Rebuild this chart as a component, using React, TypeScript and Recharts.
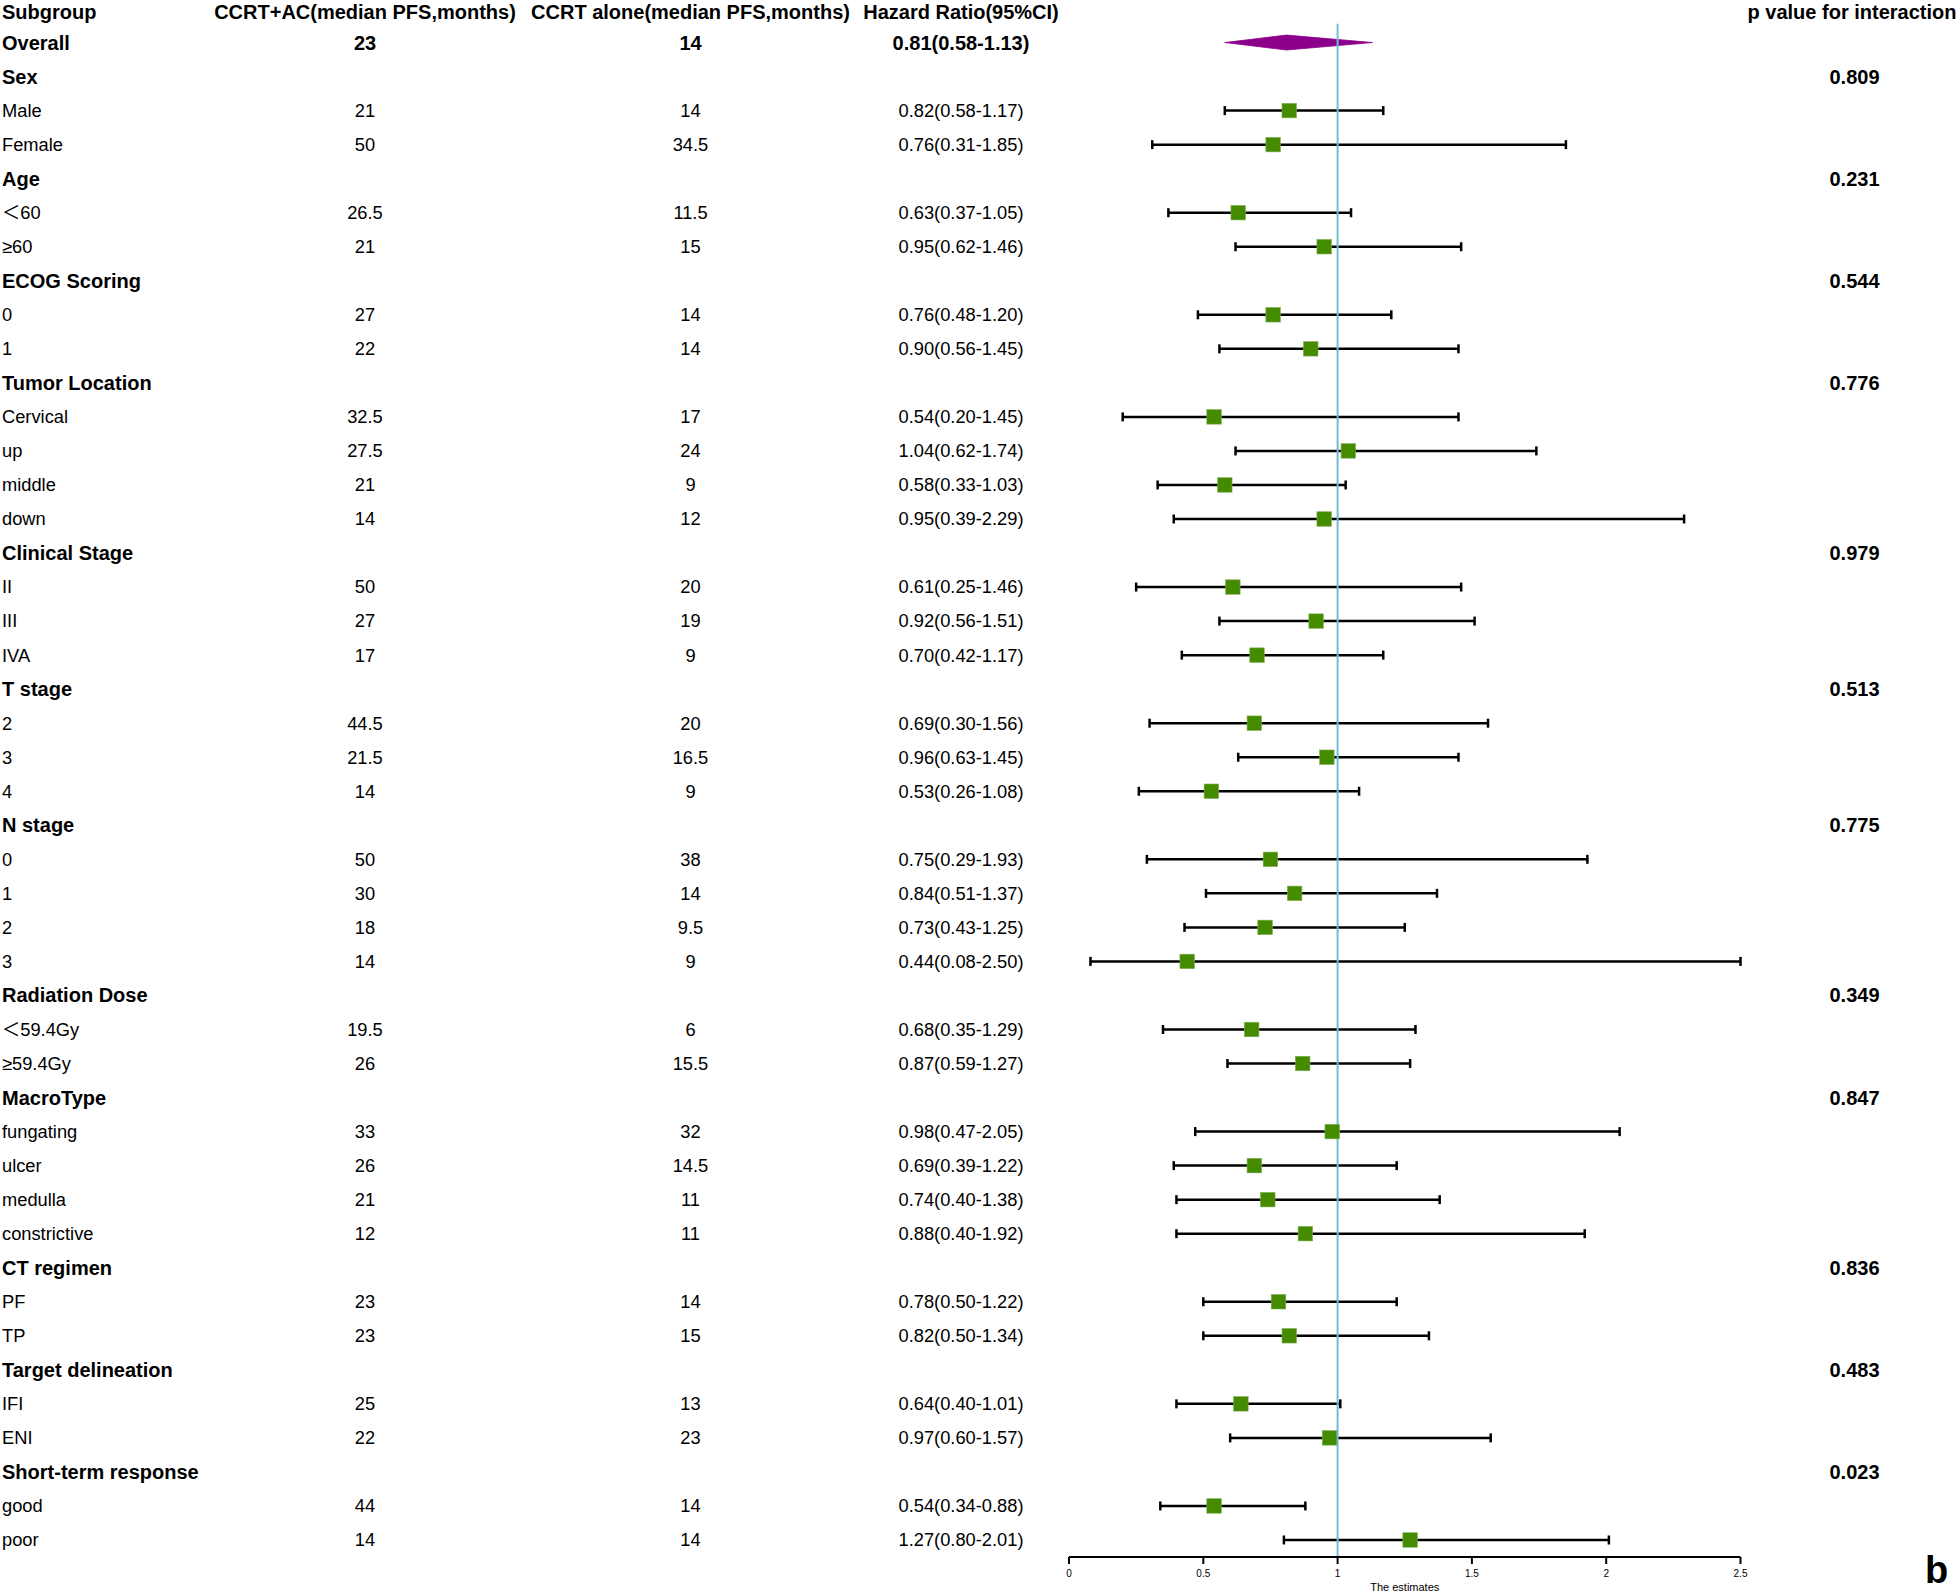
import React from 'react';
import { ComposedChart, Scatter, XAxis, YAxis, ErrorBar, ReferenceLine, ReferenceArea } from 'recharts';

// ---------- data ----------
const headers = [
  'Subgroup',
  'CCRT+AC(median PFS,months)',
  'CCRT alone(median PFS,months)',
  'Hazard Ratio(95%CI)',
  'p value for interaction',
];

const subgroups = [
  'Overall', 'Sex', 'Male', 'Female', 'Age', '＜60', '≥60', 'ECOG Scoring', '0', '1',
  'Tumor Location', 'Cervical', 'up', 'middle', 'down', 'Clinical Stage', 'II', 'III', 'IVA',
  'T stage', '2', '3', '4', 'N stage', '0', '1', '2', '3', 'Radiation Dose', '＜59.4Gy', '≥59.4Gy',
  'MacroType', 'fungating', 'ulcer', 'medulla', 'constrictive', 'CT regimen', 'PF', 'TP',
  'Target delineation', 'IFI', 'ENI', 'Short-term response', 'good', 'poor',
];

const rowKind = [
  'overall', 'group', 'item', 'item', 'group', 'item', 'item', 'group', 'item', 'item',
  'group', 'item', 'item', 'item', 'item', 'group', 'item', 'item', 'item',
  'group', 'item', 'item', 'item', 'group', 'item', 'item', 'item', 'item', 'group', 'item', 'item',
  'group', 'item', 'item', 'item', 'item', 'group', 'item', 'item',
  'group', 'item', 'item', 'group', 'item', 'item',
];

const acMedian = [
  23, null, 21, 50, null, 26.5, 21, null, 27, 22,
  null, 32.5, 27.5, 21, 14, null, 50, 27, 17,
  null, 44.5, 21.5, 14, null, 50, 30, 18, 14, null, 19.5, 26,
  null, 33, 26, 21, 12, null, 23, 23,
  null, 25, 22, null, 44, 14,
];

const aloneMedian = [
  14, null, 14, 34.5, null, 11.5, 15, null, 14, 14,
  null, 17, 24, 9, 12, null, 20, 19, 9,
  null, 20, 16.5, 9, null, 38, 14, 9.5, 9, null, 6, 15.5,
  null, 32, 14.5, 11, 11, null, 14, 15,
  null, 13, 23, null, 14, 14,
];

const hazardRatio = [
  0.81, null, 0.82, 0.76, null, 0.63, 0.95, null, 0.76, 0.90,
  null, 0.54, 1.04, 0.58, 0.95, null, 0.61, 0.92, 0.70,
  null, 0.69, 0.96, 0.53, null, 0.75, 0.84, 0.73, 0.44, null, 0.68, 0.87,
  null, 0.98, 0.69, 0.74, 0.88, null, 0.78, 0.82,
  null, 0.64, 0.97, null, 0.54, 1.27,
];

const ciLow = [
  0.58, null, 0.58, 0.31, null, 0.37, 0.62, null, 0.48, 0.56,
  null, 0.20, 0.62, 0.33, 0.39, null, 0.25, 0.56, 0.42,
  null, 0.30, 0.63, 0.26, null, 0.29, 0.51, 0.43, 0.08, null, 0.35, 0.59,
  null, 0.47, 0.39, 0.40, 0.40, null, 0.50, 0.50,
  null, 0.40, 0.60, null, 0.34, 0.80,
];

const ciHigh = [
  1.13, null, 1.17, 1.85, null, 1.05, 1.46, null, 1.20, 1.45,
  null, 1.45, 1.74, 1.03, 2.29, null, 1.46, 1.51, 1.17,
  null, 1.56, 1.45, 1.08, null, 1.93, 1.37, 1.25, 2.50, null, 1.29, 1.27,
  null, 2.05, 1.22, 1.38, 1.92, null, 1.22, 1.34,
  null, 1.01, 1.57, null, 0.88, 2.01,
];

const pInteraction = [
  null, 0.809, null, null, 0.231, null, null, 0.544, null, null,
  0.776, null, null, null, null, 0.979, null, null, null,
  0.513, null, null, null, 0.775, null, null, null, null, 0.349, null, null,
  0.847, null, null, null, null, 0.836, null, null,
  0.483, null, null, 0.023, null, null,
];

const xTicks = [0, 0.5, 1, 1.5, 2, 2.5];

// ---------- derived tables ----------
const rowIndices = Array.from({ length: subgroups.length + 1 }, (_, i) => i);
const pointData = subgroups
  .map((_, i) => ({ i, row: i + 1 }))
  .filter(({ i }) => rowKind[i] === 'item')
  .map(({ i, row }) => ({
    row,
    hr: hazardRatio[i] as number,
    err: [(hazardRatio[i] as number) - (ciLow[i] as number), (ciHigh[i] as number) - (hazardRatio[i] as number)],
  }));

// ---------- styles ----------
const FONT = '"Liberation Sans", Arial, "Noto Sans CJK SC", sans-serif';
const NARROW = '"Liberation Sans Narrow", "Liberation Sans", Arial, sans-serif';
const COL_X = { label: 2, ac: 365, alone: 690.5, hr: 961, p: 1854.5, pHead: 1852 };
const GREEN = '#458B00';
const PURPLE = '#8B008B';
const REFBLUE = '#6DBED3';

const fmt2 = (v: number) => v.toFixed(2);

const RowTick = (props: any) => {
  const { y, payload } = props;
  const r = payload.value as number;
  const bold = { fontFamily: FONT, fontSize: 20, fontWeight: 700, fill: '#000' } as const;
  const normal = { fontFamily: FONT, fontSize: 18.3, fontWeight: 400, fill: '#000' } as const;
  if (r === 0) {
    const hdy = '0.5em';
    return (
      <g>
        <text x={COL_X.label} y={y} dy={hdy} textAnchor="start" {...bold}>{headers[0]}</text>
        <text x={COL_X.ac} y={y} dy={hdy} textAnchor="middle" {...bold}>{headers[1]}</text>
        <text x={COL_X.alone} y={y} dy={hdy} textAnchor="middle" {...bold}>{headers[2]}</text>
        <text x={COL_X.hr} y={y} dy={hdy} textAnchor="middle" {...bold}>{headers[3]}</text>
        <text x={COL_X.pHead} y={y} dy={hdy} textAnchor="middle" {...bold}>{headers[4]}</text>
      </g>
    );
  }
  const i = r - 1;
  const kind = rowKind[i];
  if (kind === 'group') {
    const p = pInteraction[i];
    return (
      <g>
        <text x={COL_X.label} y={y} dy="0.35em" textAnchor="start" {...bold}>{subgroups[i]}</text>
        {p !== null && (
          <text x={COL_X.p} y={y} dy="0.35em" textAnchor="middle" {...bold}>{(p as number).toFixed(3)}</text>
        )}
      </g>
    );
  }
  const st = kind === 'overall' ? bold : normal;
  const hrText = `${fmt2(hazardRatio[i] as number)}(${fmt2(ciLow[i] as number)}-${fmt2(ciHigh[i] as number)})`;
  return (
    <g>
      <text x={COL_X.label} y={y} dy="0.35em" textAnchor="start" {...st}>{subgroups[i]}</text>
      <text x={COL_X.ac} y={y} dy="0.35em" textAnchor="middle" {...st}>{String(acMedian[i])}</text>
      <text x={COL_X.alone} y={y} dy="0.35em" textAnchor="middle" {...st}>{String(aloneMedian[i])}</text>
      <text x={COL_X.hr} y={y} dy="0.35em" textAnchor="middle" {...st}>{hrText}</text>
    </g>
  );
};

const SquareShape = (props: any) => {
  const { cx, cy } = props;
  const s = 14.5;
  return <rect x={cx - s / 2} y={cy - s / 2} width={s} height={s} fill={GREEN} stroke="#7fae55" strokeWidth={0.6} />;
};

const DiamondShape = (props: any) => {
  const { x, y, width, height } = props;
  const frac = ((hazardRatio[0] as number) - (ciLow[0] as number)) / ((ciHigh[0] as number) - (ciLow[0] as number));
  const px = x + width * frac;
  const my = y + height / 2;
  const pts = `${x},${my} ${px},${y} ${x + width},${my} ${px},${y + height}`;
  return <polygon points={pts} fill={PURPLE} stroke={PURPLE} strokeWidth={0.8} strokeLinejoin="round" />;
};

export default function App() {
  return (
    <div style={{ position: 'absolute', left: 0, top: 0, width: 1960, height: 1592, background: '#fff' }}>
      <ComposedChart
        width={1960}
        height={1592}
        data={pointData}
        margin={{ top: 8.5, right: 219.5, bottom: 0, left: 0 }}
      >
        <XAxis
          type="number"
          dataKey="hr"
          domain={[0, 2.5]}
          ticks={xTicks}
          interval={0}
          height={35}
          axisLine={{ stroke: '#000', strokeWidth: 2 }}
          tickLine={{ stroke: '#000', strokeWidth: 2 }}
          tickSize={7}
          tickMargin={6}
          tick={{ fontSize: 10, fill: '#000', fontFamily: NARROW }}
          label={{ value: 'The estimates', position: 'insideBottom', offset: 1, fontSize: 11, fill: '#000', fontFamily: NARROW }}
        />
        <YAxis
          type="number"
          dataKey="row"
          domain={[0, 45.5]}
          reversed
          ticks={rowIndices}
          interval={0}
          width={1069}
          axisLine={false}
          tickLine={false}
          tick={<RowTick />}
        />
        <ReferenceArea
          x1={ciLow[0] as number}
          x2={ciHigh[0] as number}
          y1={0.78}
          y2={1.22}
          shape={<DiamondShape />}
        />
        <Scatter data={pointData} dataKey="hr" shape={<SquareShape />} isAnimationActive={false}>
          <ErrorBar dataKey="err" direction="x" width={4.5} strokeWidth={2.5} stroke="#000" />
        </Scatter>
        <ReferenceLine
          segment={[{ x: 1, y: 0.45 }, { x: 1, y: 45.5 }]}
          stroke={REFBLUE}
          strokeWidth={2}
        />
      </ComposedChart>
      <div
        style={{
          position: 'absolute',
          left: 1925,
          top: 1551,
          fontFamily: FONT,
          fontWeight: 700,
          fontSize: 38,
          lineHeight: '38px',
          color: '#000',
        }}
      >
        b
      </div>
    </div>
  );
}
